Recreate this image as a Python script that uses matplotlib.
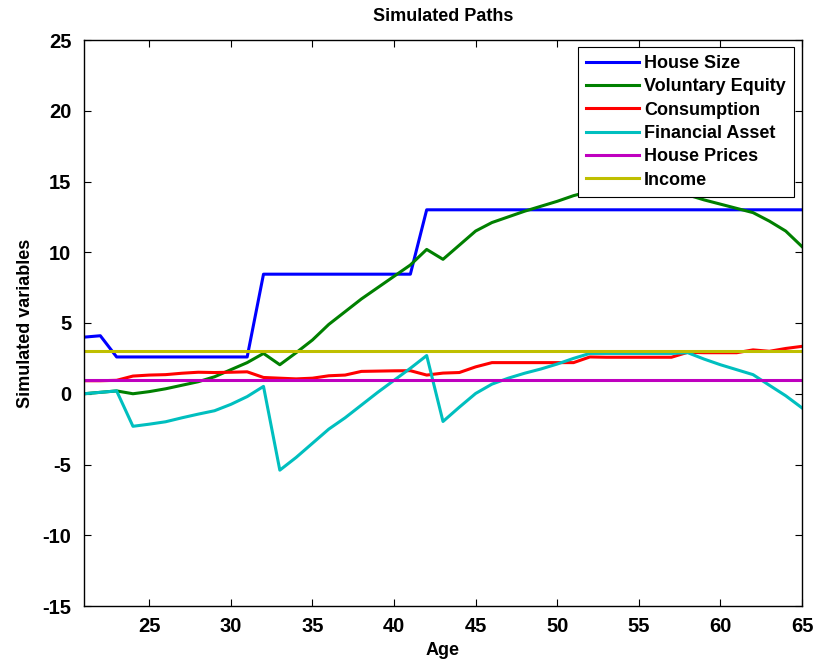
import matplotlib.pyplot as plt
import numpy as np

plt.rcParams['font.family'] = ['Liberation Sans', 'DejaVu Sans']
plt.rcParams['font.weight'] = 'bold'
plt.rcParams['axes.unicode_minus'] = False

age = np.arange(21, 66)

house_size = [4.0, 4.1, 2.6, 2.6, 2.6, 2.6, 2.6, 2.6, 2.6, 2.6, 2.6,
              8.45, 8.45, 8.45, 8.45, 8.45, 8.45, 8.45, 8.45, 8.45, 8.45,
              13.0, 13.0, 13.0, 13.0, 13.0, 13.0, 13.0, 13.0, 13.0, 13.0,
              13.0, 13.0, 13.0, 13.0, 13.0, 13.0, 13.0, 13.0, 13.0, 13.0,
              13.0, 13.0, 13.0, 13.0]

voluntary_equity = [0.0, 0.1, 0.2, 0.0, 0.15, 0.35, 0.6, 0.85, 1.2, 1.7, 2.2,
                    2.85, 2.05, 2.9, 3.8, 4.9, 5.8, 6.7, 7.5, 8.3, 9.1,
                    10.2, 9.5, 10.5, 11.5, 12.1, 12.5, 12.9, 13.25, 13.6, 14.0,
                    14.3, 14.6, 14.8, 14.9, 14.8, 14.5, 14.05, 13.7, 13.4, 13.1,
                    12.8, 12.2, 11.5, 10.4]

consumption = [0.92, 0.92, 0.95, 1.25, 1.32, 1.35, 1.45, 1.52, 1.5, 1.52, 1.55,
               1.15, 1.1, 1.05, 1.1, 1.27, 1.32, 1.58, 1.6, 1.62, 1.63,
               1.32, 1.46, 1.5, 1.9, 2.2, 2.2, 2.2, 2.2, 2.2, 2.2,
               2.6, 2.58, 2.58, 2.58, 2.58, 2.58, 2.93, 2.9, 2.9, 2.9,
               3.1, 3.0, 3.2, 3.35]

financial_asset = [0.0, 0.1, 0.2, -2.3, -2.15, -1.98, -1.7, -1.44, -1.2, -0.75, -0.2,
                   0.52, -5.4, -4.5, -3.5, -2.5, -1.7, -0.8, 0.1, 0.95, 1.8,
                   2.7, -1.96, -0.95, 0.02, 0.68, 1.1, 1.45, 1.75, 2.1, 2.5,
                   2.85, 2.85, 2.85, 2.85, 2.85, 2.85, 2.9, 2.45, 2.05, 1.7,
                   1.35, 0.6, -0.14, -1.0]

house_prices = [1.0] * len(age)
income = [3.0] * len(age)

series = [
    ('House Size', house_size, (0, 0, 1)),
    ('Voluntary Equity', voluntary_equity, (0, 0.5, 0)),
    ('Consumption', consumption, (1, 0, 0)),
    ('Financial Asset', financial_asset, (0, 0.75, 0.75)),
    ('House Prices', house_prices, (0.75, 0, 0.75)),
    ('Income', income, (0.75, 0.75, 0)),
]

fig = plt.figure(figsize=(8.14, 6.62), dpi=100)
ax = fig.add_axes([84 / 814, 1 - 606 / 662, (802 - 84) / 814, (606 - 40) / 662])

for name, values, color in series:
    ax.plot(age, values, color=color, linewidth=2.2, label=name)

ax.set_xlim(21, 65)
ax.set_ylim(-15, 25)
ax.set_xticks(range(25, 66, 5))
ax.set_yticks(range(-15, 26, 5))
ax.tick_params(direction='in', length=5, width=0.8, top=True, right=True,
               labelsize=14.5)
ax.tick_params(axis='y', pad=9)
ax.tick_params(axis='x', pad=8)
for s in ax.spines.values():
    s.set_linewidth(1.0)

ax.set_title('Simulated Paths', fontsize=13, fontweight='bold', pad=14)
ax.set_xlabel('Age', fontsize=13, fontweight='bold', labelpad=4)
ax.set_ylabel('Simulated variables', fontsize=13, fontweight='bold', labelpad=6)

leg = ax.legend(loc='upper right', bbox_to_anchor=(0.9889, 0.9876),
                borderaxespad=0, fancybox=False, framealpha=1,
                edgecolor='black', fontsize=13, handlelength=2.9,
                handletextpad=0.3, borderpad=0.45, labelspacing=0.35)
leg.get_frame().set_linewidth(0.8)

fig.savefig('out.png', dpi=100)
